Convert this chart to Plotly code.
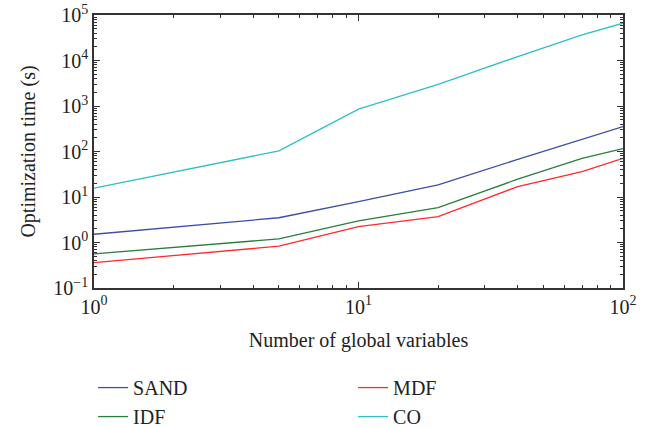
import plotly.graph_objects as go

x_vals = [1, 5, 10, 20, 40, 70, 100]
sand = [1.52, 3.5, 7.9, 18.4, 67, 186, 352]
idf = [0.56, 1.2, 3.0, 5.85, 24.6, 71, 116]
mdf = [0.36, 0.83, 2.24, 3.7, 16.9, 36, 71]
co = [15.6, 103, 850, 3000, 12200, 36500, 66000]

# legend reads row-wise: SAND, MDF / IDF, CO
names = ["SAND", "MDF", "IDF", "CO"]
colors = ["#3c4fa3", "#ff2a2a", "#2a7d3c", "#2fbfc6"]
series = [sand, mdf, idf, co]

x_exps = [0, 1, 2]
y_exps = [-1, 0, 1, 2, 3, 4, 5]

FONT = "Liberation Serif"
AX = "#333333"


def sup_label(e):
    s = str(e).replace("-", "\u2212")
    return "10<sup>" + s + "</sup>"


def minor_vals(exps):
    out = []
    for e in exps[:-1]:
        for m in range(2, 10):
            out.append(m * 10 ** e)
    return out


fig = go.Figure()
for n, c, s in zip(names, colors, series):
    fig.add_trace(go.Scatter(x=x_vals, y=s, mode="lines", name=n,
                             line=dict(color=c, width=1.3)))

# invisible helper trace so the minor-tick overlay axes get drawn
fig.add_trace(go.Scatter(x=x_vals, y=sand, xaxis="x2", yaxis="y2",
                         mode="lines", line=dict(width=0), opacity=0,
                         showlegend=False, hoverinfo="skip"))


def major_axis(exps):
    return dict(
        type="log", showgrid=False, zeroline=False, automargin=False,
        showline=True, linecolor=AX, linewidth=1.5, mirror="allticks",
        ticks="inside", ticklen=6, tickcolor=AX, tickwidth=1.2,
        tickmode="array",
        tickvals=[10 ** e for e in exps],
        ticktext=[sup_label(e) for e in exps],
        tickfont=dict(family=FONT, size=20, color="#222222"),
    )


def minor_axis(exps, overlay, rng):
    return dict(
        type="log", overlaying=overlay, range=rng, automargin=False,
        showgrid=False, zeroline=False, showline=False,
        mirror="allticks", ticks="inside", ticklen=3, tickcolor=AX,
        tickwidth=1, tickmode="array", tickvals=minor_vals(exps),
        showticklabels=False, fixedrange=True,
    )


fig.update_layout(
    width=651, height=428,
    margin=dict(l=94, r=28, t=15, b=140),
    paper_bgcolor="white", plot_bgcolor="white",
    font=dict(family=FONT, size=20, color="#222222"),
    showlegend=True,
    xaxis=dict(**major_axis(x_exps), range=[0, 2],
               title=dict(text="Number of global variables", standoff=16,
                          font=dict(family=FONT, size=20))),
    yaxis=dict(**major_axis(y_exps), range=[-1, 5],
               title=dict(text="Optimization time (s)", standoff=12,
                          font=dict(family=FONT, size=20))),
    xaxis2=minor_axis(x_exps, "x", [0, 2]),
    yaxis2=minor_axis(y_exps, "y", [-1, 5]),
    legend=dict(orientation="h", xref="container", yref="container",
                x=0.143, y=0.14, xanchor="left", yanchor="top",
                entrywidth=215, entrywidthmode="pixels",
                bgcolor="rgba(0,0,0,0)", font=dict(family=FONT, size=20),
                traceorder="normal"),
)

fig.write_html("out.html")
